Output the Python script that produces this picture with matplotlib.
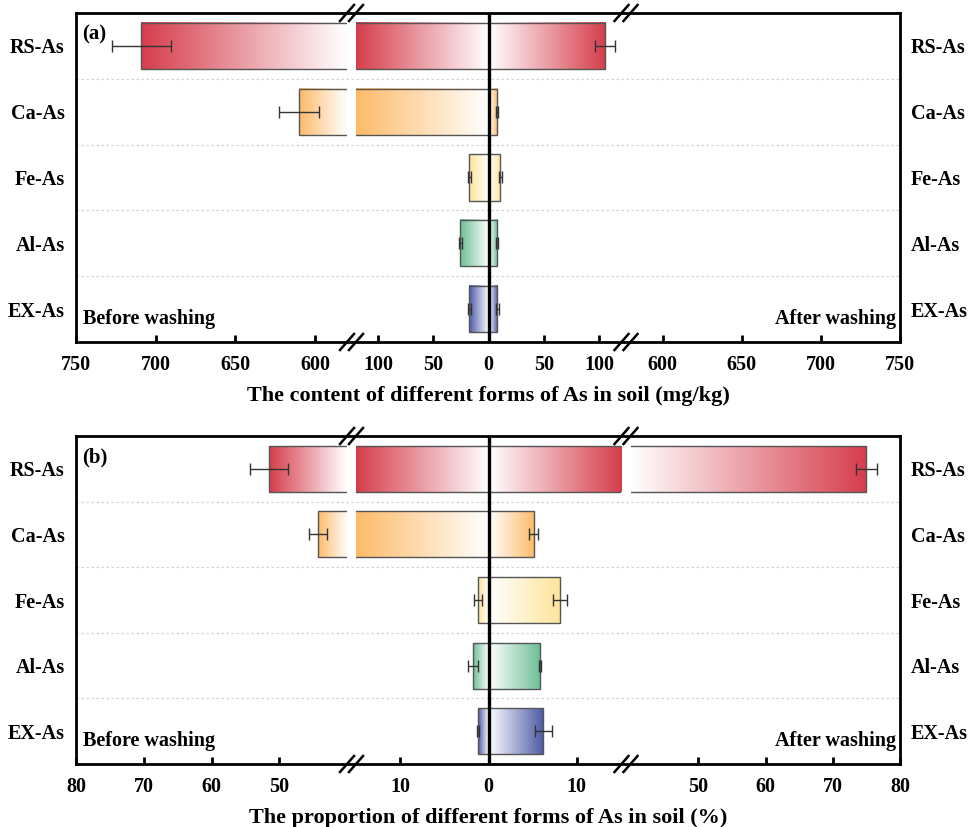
import numpy as np
import matplotlib
matplotlib.use("Agg")
import matplotlib.pyplot as plt
from matplotlib.colors import to_rgb
from matplotlib.lines import Line2D
from matplotlib.ticker import FuncFormatter

plt.rcParams["font.family"] = ["Liberation Serif", "DejaVu Serif"]
plt.rcParams["font.weight"] = "bold"
plt.rcParams["axes.labelweight"] = "bold"
plt.rcParams["font.size"] = 14

# ---- data ----
categories = ["RS-As", "Ca-As", "Fe-As", "Al-As", "EX-As"]
bar_colors = ["#D63D4C", "#FDBB69", "#FEE49A", "#6CBF94", "#4B5AA6"]

# (a) content, mg/kg
content_before = [709.0, 610.0, 17.4, 25.5, 17.4]
content_before_err = [18.5, 12.6, 1.2, 1.2, 1.2]
content_after = [105.5, 7.9, 10.8, 7.5, 8.1]
content_after_err = [9.5, 1.0, 1.2, 1.0, 1.0]

# (b) proportion, %
prop_before = [51.5, 44.3, 1.15, 1.74, 1.17]
prop_before_err = [2.85, 1.35, 0.47, 0.57, 0.15]
prop_after = [75.0, 5.1, 8.1, 5.86, 6.2]
prop_after_err = [1.55, 0.5, 0.8, 0.1, 0.96]

# broken x-axis segments (signed: before washing < 0 < after washing)
segments_a = [(-750, -580), (-120, 120), (580, 750)]
ticks_a = [[-750, -700, -650, -600], [-100, -50, 0, 50, 100], [600, 650, 700, 750]]
segments_b = [(-80, -40), (-15, 15), (40, 80)]
ticks_b = [[-80, -70, -60, -50], [-10, 0, 10], [50, 60, 70, 80]]

xlabel_a = "The content of different forms of As in soil (mg/kg)"
xlabel_b = "The proportion of different forms of As in soil (%)"

# ---- layout in pixels ----
FIG_W, FIG_H = 968, 827
SEG_PX = [(76, 347), (356, 621), (631, 900)]
BAR_H = 0.7


def px_rect(x0, x1, top, bottom):
    return [x0 / FIG_W, 1 - bottom / FIG_H, (x1 - x0) / FIG_W, (bottom - top) / FIG_H]


def gradient_piece(ax, y, value, xlim, color):
    # visible part of the bar inside this segment, white at the end nearest zero
    lo = max(min(0, value), xlim[0])
    hi = min(max(0, value), xlim[1])
    if hi <= lo:
        return
    rgb = np.array(to_rgb(color))
    t = np.linspace(0, 1, 256)
    if value < 0:
        t = t[::-1]
    img = (1 - t)[:, None] + t[:, None] * rgb[None, :]
    ax.imshow(img[None, :, :], extent=(lo, hi, y + BAR_H / 2, y - BAR_H / 2),
              aspect="auto", interpolation="bilinear", zorder=1)


def break_marks(fig, top, bottom):
    for i in range(2):
        cx = (SEG_PX[i][1] + SEG_PX[i + 1][0]) / 2
        for sy in (top, bottom):
            for off in (-4.5, 4.5):
                xs = [(cx + off - 7) / FIG_W, (cx + off + 7) / FIG_W]
                ys = [1 - (sy + 8) / FIG_H, 1 - (sy - 8) / FIG_H]
                fig.add_artist(Line2D(xs, ys, transform=fig.transFigure,
                                      color="black", lw=1.8))


def draw_panel(fig, top, bottom, before, before_err, after, after_err,
               segments, ticks, xlabel, tag):
    y = np.arange(len(categories))

    frame = fig.add_axes(px_rect(SEG_PX[0][0], SEG_PX[2][1], top, bottom))
    frame.set_xlim(0, 1)
    frame.set_ylim(len(categories) - 0.5, -0.5)
    frame.set_xticks([])
    frame.set_yticks(y)
    frame.set_yticklabels(categories)
    frame.set_yticks(y[:-1] + 0.5, minor=True)
    frame.tick_params(axis="y", which="both", length=0, labelleft=True,
                      labelright=True, pad=8, labelsize=14.5)
    frame.grid(which="minor", axis="y", ls=(0, (2, 2)), color="#d4d4d4", lw=0.9)
    for sp in frame.spines.values():
        sp.set_linewidth(2.0)
    frame.text(0.007, 0.935, tag, transform=frame.transAxes, fontsize=15,
               va="center", ha="left")
    frame.text(0.008, 0.07, "Before washing", transform=frame.transAxes,
               va="center", ha="left", fontsize=14.5)
    frame.text(0.995, 0.07, "After washing", transform=frame.transAxes,
               va="center", ha="right", fontsize=14.5)
    frame.set_xlabel(xlabel, fontsize=16, labelpad=32)

    neg_before = [-v for v in before]
    for (x0, x1), xlim, tks in zip(SEG_PX, segments, ticks):
        ax = fig.add_axes(px_rect(x0, x1, top, bottom))
        ax.set_facecolor("none")
        for i in range(len(categories)):
            gradient_piece(ax, y[i], neg_before[i], xlim, bar_colors[i])
            gradient_piece(ax, y[i], after[i], xlim, bar_colors[i])
        ax.barh(y, neg_before, height=BAR_H, fill=False,
                edgecolor="#555555", linewidth=1.0, zorder=2)
        ax.barh(y, after, height=BAR_H, fill=False,
                edgecolor="#555555", linewidth=1.0, zorder=2)
        ax.errorbar(neg_before, y, xerr=before_err, fmt="none",
                    ecolor="#333333", elinewidth=1.0, capsize=4, capthick=1.0, zorder=3)
        ax.errorbar(after, y, xerr=after_err, fmt="none",
                    ecolor="#333333", elinewidth=1.0, capsize=4, capthick=1.0, zorder=3)
        if xlim[0] < 0 < xlim[1]:
            ax.axvline(0, color="black", lw=2.4, zorder=4)
        ax.set_xlim(*xlim)
        ax.set_ylim(len(categories) - 0.5, -0.5)
        ax.set_yticks([])
        ax.set_xticks(tks)
        ax.xaxis.set_major_formatter(FuncFormatter(lambda v, p: f"{abs(v):g}"))
        ax.tick_params(axis="x", direction="in", length=5, width=2, pad=9,
                       labelsize=14.5)
        for sp in ax.spines.values():
            sp.set_visible(False)

    break_marks(fig, top, bottom)


fig = plt.figure(figsize=(FIG_W / 100, FIG_H / 100), dpi=100)

draw_panel(fig, 13, 342, content_before, content_before_err, content_after,
           content_after_err, segments_a, ticks_a, xlabel_a, "(a)")
draw_panel(fig, 436, 764, prop_before, prop_before_err, prop_after,
           prop_after_err, segments_b, ticks_b, xlabel_b, "(b)")

fig.savefig("out.png", dpi=100)
